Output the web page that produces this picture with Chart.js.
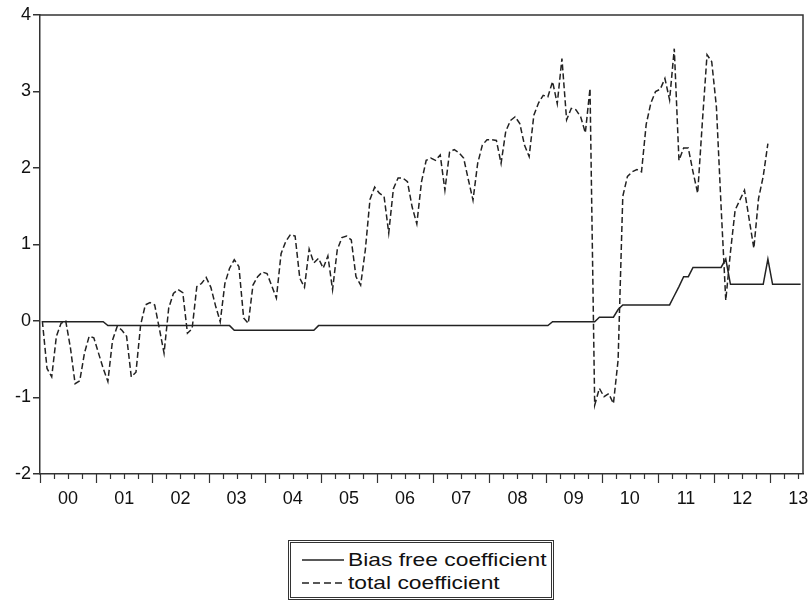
<!DOCTYPE html>
<html>
<head>
<meta charset="utf-8">
<script src="https://cdn.jsdelivr.net/npm/chart.js@4/dist/chart.umd.min.js"></script>
<style>
  html, body { margin: 0; padding: 0; background: #fff; }
  #wrap { position: relative; width: 808px; height: 602px; overflow: hidden; }
  #c { position: absolute; left: 0; top: 0; }
  #legend { position: absolute; left: 288px; top: 540px; width: 266px; height: 60px;
            box-sizing: border-box; border: 3px double #333; background: #fff; }
  .row { position: absolute; left: 0; height: 23px; white-space: nowrap; }
  .row svg { position: absolute; left: 11px; top: 0; }
  .row span { position: absolute; left: 57px; top: 0; line-height: 23px;
              font-family: "Liberation Sans", Arial, sans-serif; font-size: 19px; color: #111;
              transform-origin: 0 50%; transform: scaleX(1.2); }
</style>
</head>
<body>
<div id="wrap">
  <canvas id="c" width="808" height="602"></canvas>
  <div id="legend">
    <div class="row" style="top:5px">
      <svg width="44" height="23"><line x1="0" y1="12" x2="42" y2="12" stroke="#222" stroke-width="1.5"/></svg>
      <span>Bias free coefficient</span>
    </div>
    <div class="row" style="top:28px">
      <svg width="44" height="23"><line x1="0" y1="12" x2="42" y2="12" stroke="#222" stroke-width="1.5" stroke-dasharray="7,4"/></svg>
      <span>total coefficient</span>
    </div>
  </div>
</div>
<script>
// ---- data (monthly, first observation = 2000M1) ----
const yearLabels = ['00','01','02','03','04','05','06','07','08','09','10','11','12','13'];

const biasFree = [
  -0.01,-0.01,-0.01,-0.01,-0.01,-0.01,-0.01,-0.01,-0.01,-0.01,-0.01,-0.01,
  -0.01,-0.01,-0.06,-0.06,-0.06,-0.06,-0.06,-0.06,-0.06,-0.06,-0.06,-0.06,
  -0.06,-0.06,-0.06,-0.06,-0.06,-0.06,-0.06,-0.06,-0.06,-0.06,-0.06,-0.06,
  -0.06,-0.06,-0.06,-0.06,-0.06,-0.12,-0.12,-0.12,-0.12,-0.12,-0.12,-0.12,
  -0.12,-0.12,-0.12,-0.12,-0.12,-0.12,-0.12,-0.12,-0.12,-0.12,-0.12,-0.06,
  -0.06,-0.06,-0.06,-0.06,-0.06,-0.06,-0.06,-0.06,-0.06,-0.06,-0.06,-0.06,
  -0.06,-0.06,-0.06,-0.06,-0.06,-0.06,-0.06,-0.06,-0.06,-0.06,-0.06,-0.06,
  -0.06,-0.06,-0.06,-0.06,-0.06,-0.06,-0.06,-0.06,-0.06,-0.06,-0.06,-0.06,
  -0.06,-0.06,-0.06,-0.06,-0.06,-0.06,-0.06,-0.06,-0.06,-0.06,-0.06,-0.06,
  -0.06,-0.01,-0.01,-0.01,-0.01,-0.01,-0.01,-0.01,-0.01,-0.01,-0.01,0.05,
  0.05,0.05,0.05,0.15,0.21,0.21,0.21,0.21,0.21,0.21,0.21,0.21,
  0.21,0.21,0.21,0.33,0.45,0.58,0.58,0.70,0.70,0.70,0.70,0.70,
  0.70,0.70,0.81,0.48,0.48,0.48,0.48,0.48,0.48,0.48,0.48,0.81,
  0.48,0.48,0.48,0.48,0.48,0.48,0.48
];

const total = [
  0.00,-0.62,-0.73,-0.20,-0.03,0.00,-0.35,-0.82,-0.78,-0.42,-0.20,-0.22,
  -0.42,-0.62,-0.79,-0.25,-0.07,-0.12,-0.20,-0.73,-0.67,-0.05,0.21,0.24,
  0.21,-0.10,-0.42,0.17,0.36,0.41,0.37,-0.16,-0.10,0.45,0.49,0.57,
  0.44,0.20,-0.01,0.49,0.69,0.80,0.71,0.04,-0.03,0.47,0.58,0.64,
  0.62,0.46,0.30,0.88,1.04,1.13,1.11,0.56,0.44,0.94,0.76,0.82,
  0.69,0.85,0.41,0.93,1.09,1.11,1.06,0.58,0.47,0.93,1.59,1.75,
  1.67,1.63,1.15,1.73,1.87,1.87,1.82,1.49,1.27,1.82,2.10,2.13,
  2.10,2.17,1.71,2.21,2.24,2.20,2.13,1.85,1.58,2.06,2.30,2.37,
  2.37,2.36,2.06,2.48,2.62,2.67,2.58,2.30,2.15,2.69,2.85,2.95,
  2.93,3.13,2.84,3.43,2.63,2.78,2.76,2.67,2.46,3.04,-1.10,-0.88,
  -0.99,-0.95,-1.08,-0.51,1.63,1.89,1.95,1.98,1.95,2.57,2.85,3.00,
  3.03,3.17,2.89,3.56,2.10,2.26,2.26,1.95,1.67,2.60,3.48,3.39,
  2.80,1.50,0.27,0.90,1.45,1.58,1.71,1.33,0.95,1.60,1.89,2.32
];

const lineColor = '#222';
const axisColor = '#333';
const fontFamily = '"Liberation Sans", Arial, sans-serif';

const framePlugin = {
  id: 'frame',
  afterDraw(chart) {
    const { ctx, chartArea: a, scales } = chart;
    ctx.save();
    ctx.strokeStyle = axisColor;
    ctx.lineWidth = 1.5;
    ctx.beginPath();
    ctx.moveTo(a.left, a.top); ctx.lineTo(a.right, a.top); ctx.lineTo(a.right, a.bottom);
    ctx.stroke();
    // quarterly tick marks, longer at the start of each year
    const xs = scales.x;
    ctx.lineWidth = 1.2;
    ctx.beginPath();
    for (let q = 0; q * 3 - 0.5 <= xs.max + 0.01; q++) {
      const v = q * 3 - 0.5;
      const px = Math.round(xs.getPixelForValue(v)) + 0.5;
      const len = (q % 4 === 0) ? 9 : 5;
      ctx.moveTo(px, a.bottom);
      ctx.lineTo(px, a.bottom + len);
    }
    ctx.stroke();
    ctx.restore();
  }
};

new Chart(document.getElementById('c'), {
  type: 'line',
  data: {
    datasets: [
      { label: 'Bias free coefficient', data: biasFree.map((v, i) => ({ x: i, y: v })),
        borderColor: lineColor, borderWidth: 1.5, pointRadius: 0, tension: 0, fill: false },
      { label: 'total coefficient', data: total.map((v, i) => ({ x: i, y: v })),
        borderColor: lineColor, borderWidth: 1.5, borderDash: [6, 3], pointRadius: 0, tension: 0, fill: false }
    ]
  },
  options: {
    responsive: false,
    animation: false,
    events: [],
    layout: { padding: { top: 15, right: 5, bottom: 88, left: 0 } },
    plugins: { legend: { display: false }, tooltip: { enabled: false } },
    scales: {
      x: {
        type: 'linear', min: -0.5, max: 162.5,
        afterFit: s => { s.height = 40; s.paddingLeft = 0; s.paddingRight = 0; },
        afterBuildTicks: s => { s.ticks = yearLabels.map((l, k) => ({ value: 12 * k + 5.5 })); },
        ticks: { autoSkip: false, maxRotation: 0, padding: 14, color: '#111',
                 font: { family: fontFamily, size: 18 },
                 callback: (v, i) => yearLabels[i] },
        grid: { drawOnChartArea: false, drawTicks: false },
        border: { display: true, color: axisColor, width: 1.5 }
      },
      y: {
        min: -2, max: 4,
        afterFit: s => { s.width = 40; s.paddingTop = 0; s.paddingBottom = 0; },
        ticks: { stepSize: 1, padding: 2, color: '#111', font: { family: fontFamily, size: 18 } },
        grid: { drawOnChartArea: false, drawTicks: true, tickLength: 7, color: axisColor, lineWidth: 1.5 },
        border: { display: true, color: axisColor, width: 1.5 }
      }
    }
  },
  plugins: [framePlugin]
});
</script>
</body>
</html>
